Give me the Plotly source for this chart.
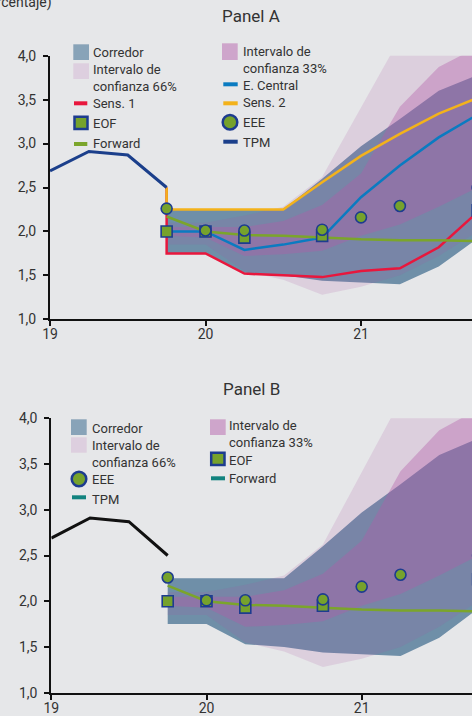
import plotly.graph_objects as go

W, H = 472, 716
BG = "#E6E7E9"
FONT = "Roboto, 'Liberation Sans', Arial, sans-serif"
TXT = "#333333"

# ---------------- data ----------------
hist_q = [19.0, 19.25, 19.5, 19.75]
tpm = [2.69, 2.91, 2.87, 2.50]

proj_q = [19.75, 20.0, 20.25, 20.5, 20.75, 21.0, 21.25, 21.5, 21.75]
corr_hi = [2.25, 2.25, 2.25, 2.25, 2.60, 2.97, 3.28, 3.60, 3.78]
corr_lo = [1.75, 1.75, 1.53, 1.50, 1.44, 1.42, 1.40, 1.60, 1.92]
ic66_hi = [2.10, 2.10, 2.18, 2.28, 2.62, 3.42, 4.20, 4.60, 4.90]
ic66_lo = [1.85, 1.85, 1.55, 1.45, 1.28, 1.37, 1.50, 1.72, 2.00]
ic33_hi = [2.05, 2.05, 2.05, 2.12, 2.30, 2.66, 3.42, 3.87, 4.10]
ic33_lo = [1.95, 1.93, 1.72, 1.74, 1.78, 1.95, 2.08, 2.28, 2.50]
e_central = [2.00, 2.00, 1.79, 1.85, 1.93, 2.39, 2.75, 3.07, 3.33]
forward = [2.17, 2.00, 1.96, 1.95, 1.93, 1.91, 1.90, 1.90, 1.89]

sens_q = [19.75] + proj_q
sens1 = [2.50, 1.75, 1.75, 1.52, 1.50, 1.48, 1.55, 1.58, 1.82, 2.22]
sens2 = [2.50, 2.25, 2.25, 2.25, 2.25, 2.56, 2.86, 3.11, 3.34, 3.52]

eee_q = [19.75, 20.0, 20.25, 20.75, 21.0, 21.25, 21.75]
eee = [2.26, 2.01, 2.01, 2.02, 2.16, 2.29, 2.50]
eof_q = [19.75, 20.0, 20.25, 20.75, 21.75]
eof = [2.00, 2.00, 1.93, 1.95, 2.24]

y_ticks = [1.0, 1.5, 2.0, 2.5, 3.0, 3.5, 4.0]
x_ticks = [19, 20, 21]
x_ticklabels = ["19", "20", "21"]

titles = ["Panel A", "Panel B"]
unit_label = "(porcentaje)"

# ---------------- colours ----------------
C_CORR = "#6F8FA8"
C_66 = "rgba(167,81,164,0.16)"
C_33 = "rgba(180,91,167,0.38)"
L_CORR = "#88A3B8"
L_66 = "#DDCFDF"
L_33 = "#CEA5CB"
C_TPM_A = "#1B3F8B"
C_TPM_B = "#111111"
C_EC = "#0A7BC1"
C_S1 = "#E8173D"
C_S2 = "#F3B21B"
C_FWD = "#7BA52B"
C_MK = "#76A22C"
C_MKL = "#1D3C8F"
C_TEAL = "#12837F"

LEG_SIZE = 13


def px(x):
    return x / W


def py(y):
    return 1 - y / H


fig = go.Figure()


def add_panel(xa, ya, with_sens, tpm_color):
    bx = proj_q + proj_q[::-1]
    for hi, lo, col in [(corr_hi, corr_lo, C_CORR), (ic66_hi, ic66_lo, C_66), (ic33_hi, ic33_lo, C_33)]:
        fig.add_trace(go.Scatter(x=bx, y=hi + lo[::-1], fill="toself", fillcolor=col,
                                 line=dict(width=0), mode="lines", hoverinfo="skip",
                                 showlegend=False, xaxis=xa, yaxis=ya))
    if with_sens:
        fig.add_trace(go.Scatter(x=proj_q, y=e_central, mode="lines", line=dict(color=C_EC, width=2.5),
                                 showlegend=False, xaxis=xa, yaxis=ya))
        fig.add_trace(go.Scatter(x=sens_q, y=sens1, mode="lines", line=dict(color=C_S1, width=2.5),
                                 showlegend=False, xaxis=xa, yaxis=ya))
        fig.add_trace(go.Scatter(x=sens_q, y=sens2, mode="lines", line=dict(color=C_S2, width=2.5),
                                 showlegend=False, xaxis=xa, yaxis=ya))
    fig.add_trace(go.Scatter(x=proj_q, y=forward, mode="lines", line=dict(color=C_FWD, width=2.5),
                             showlegend=False, xaxis=xa, yaxis=ya))
    fig.add_trace(go.Scatter(x=hist_q, y=tpm, mode="lines", line=dict(color=tpm_color, width=3),
                             showlegend=False, xaxis=xa, yaxis=ya))
    fig.add_trace(go.Scatter(x=eof_q, y=eof, mode="markers",
                             marker=dict(symbol="square", size=11, color=C_MK,
                                         line=dict(color=C_MKL, width=1.6)),
                             showlegend=False, xaxis=xa, yaxis=ya))
    fig.add_trace(go.Scatter(x=eee_q, y=eee, mode="markers",
                             marker=dict(symbol="circle", size=11, color=C_MK,
                                         line=dict(color=C_MKL, width=1.6)),
                             showlegend=False, xaxis=xa, yaxis=ya))


add_panel("x", "y", True, C_TPM_A)
add_panel("x2", "y2", False, C_TPM_B)

shapes = []
annotations = []


def text(x, y, s, size=LEG_SIZE, xanchor="left"):
    annotations.append(dict(x=px(x), y=py(y), xref="paper", yref="paper", text=s, showarrow=False,
                            xanchor=xanchor, yanchor="middle", align="left", borderpad=0,
                            font=dict(size=size, color=TXT, family=FONT)))


def swatch(x0, x1, y0, y1, color, line=None):
    shapes.append(dict(type="rect", xref="paper", yref="paper", x0=px(x0), x1=px(x1), y0=py(y1), y1=py(y0),
                       fillcolor=color, line=dict(width=line[1] if line else 0, color=line[0] if line else color)))


def dash(x0, x1, y, color):
    shapes.append(dict(type="line", xref="paper", yref="paper", x0=px(x0), x1=px(x1), y0=py(y), y1=py(y),
                       line=dict(color=color, width=4)))


def dot(cx, cy, r):
    shapes.append(dict(type="circle", xref="paper", yref="paper", x0=px(cx - r), x1=px(cx + r),
                       y0=py(cy + r), y1=py(cy - r), fillcolor=C_MK, line=dict(color=C_MKL, width=2.5)))


# ---- legend panel A ----
swatch(73.3, 89, 44.3, 60, L_CORR); text(92, 52.7, "Corredor")
swatch(73.3, 89, 63.3, 79, L_66); text(92, 78.5, "Intervalo de<br>confianza 66%")
dash(74, 87.3, 103.3, C_S1); text(92, 104, "Sens. 1")
swatch(74.5, 87.5, 116.8, 129, C_MK, (C_MKL, 2.5)); text(92, 123.5, "EOF")
dash(74, 87.3, 144, C_FWD); text(92, 143, "Forward")

swatch(222, 237.7, 43.3, 60, L_33); text(241.7, 59.7, "Intervalo de<br>confianza 33%")
dash(223.3, 237.7, 84.3, C_EC); text(241.7, 86, "E. Central")
dash(223.3, 237.7, 103.3, C_S2); text(241.7, 103, "Sens. 2")
dot(230, 122.3, 7.3); text(241.7, 122.7, "EEE")
dash(223.3, 237.7, 141.7, C_TPM_A); text(241.7, 142.7, "TPM")

# ---- legend panel B ----
swatch(71, 86.7, 419.3, 435, L_CORR); text(91.3, 428, "Corredor")
swatch(71, 86.7, 437.3, 452.7, L_66); text(91.3, 454, "Intervalo de<br>confianza 66%")
dot(79, 479, 7.3); text(91.3, 480, "EEE")
dash(72, 86, 497.3, C_TEAL); text(91.3, 499.5, "TPM")

swatch(210, 225.7, 419.3, 435, L_33); text(228.3, 434.5, "Intervalo de<br>confianza 33%")
swatch(211.2, 224.5, 452.8, 465, C_MK, (C_MKL, 2.5)); text(228.3, 460.5, "EOF")
dash(211, 225, 478.3, C_TEAL); text(228.3, 479, "Forward")

# titles
text(251.3, 15.7, titles[0], size=17, xanchor="center")
text(251.3, 389.3, titles[1], size=17, xanchor="center")
text(53, 2.0, unit_label, size=14, xanchor="right")

axis_common = dict(showline=True, linecolor="#111111", linewidth=2, showgrid=False, zeroline=False,
                   ticks="outside", ticklen=5, tickwidth=1.5, tickcolor="#111111",
                   tickfont=dict(size=14, color=TXT, family=FONT), automargin=False)

fig.update_layout(
    width=W, height=H,
    margin=dict(l=0, r=0, t=0, b=0),
    paper_bgcolor=BG, plot_bgcolor=BG,
    separators=",.",
    showlegend=False,
    font=dict(family=FONT, color=TXT),
    shapes=shapes,
    annotations=annotations,
    xaxis=dict(domain=[50 / W, 1], range=[19, 19 + 422 / 155.5], tickvals=x_ticks, ticktext=x_ticklabels,
               anchor="y", ticklabelstandoff=-4, **axis_common),
    yaxis=dict(domain=[1 - 319.3 / H, 1 - 55.7 / H], range=[1, 4], tickvals=y_ticks, tickformat=".1f",
               anchor="x", ticklabelstandoff=4, **axis_common),
    xaxis2=dict(domain=[51.3 / W, 1], range=[19, 19 + (472 - 51.3) / 155.2], tickvals=x_ticks,
                ticktext=x_ticklabels, anchor="y2", ticklabelstandoff=-4, **axis_common),
    yaxis2=dict(domain=[1 - 692.7 / H, 1 - 418.3 / H], range=[1, 4], tickvals=y_ticks, tickformat=".1f",
                anchor="x2", ticklabelstandoff=4, **axis_common),
)

fig.write_html("out.html", config={"displayModeBar": False},
               post_script="document.body.style.margin='0';document.body.style.background='#E6E7E9';")
